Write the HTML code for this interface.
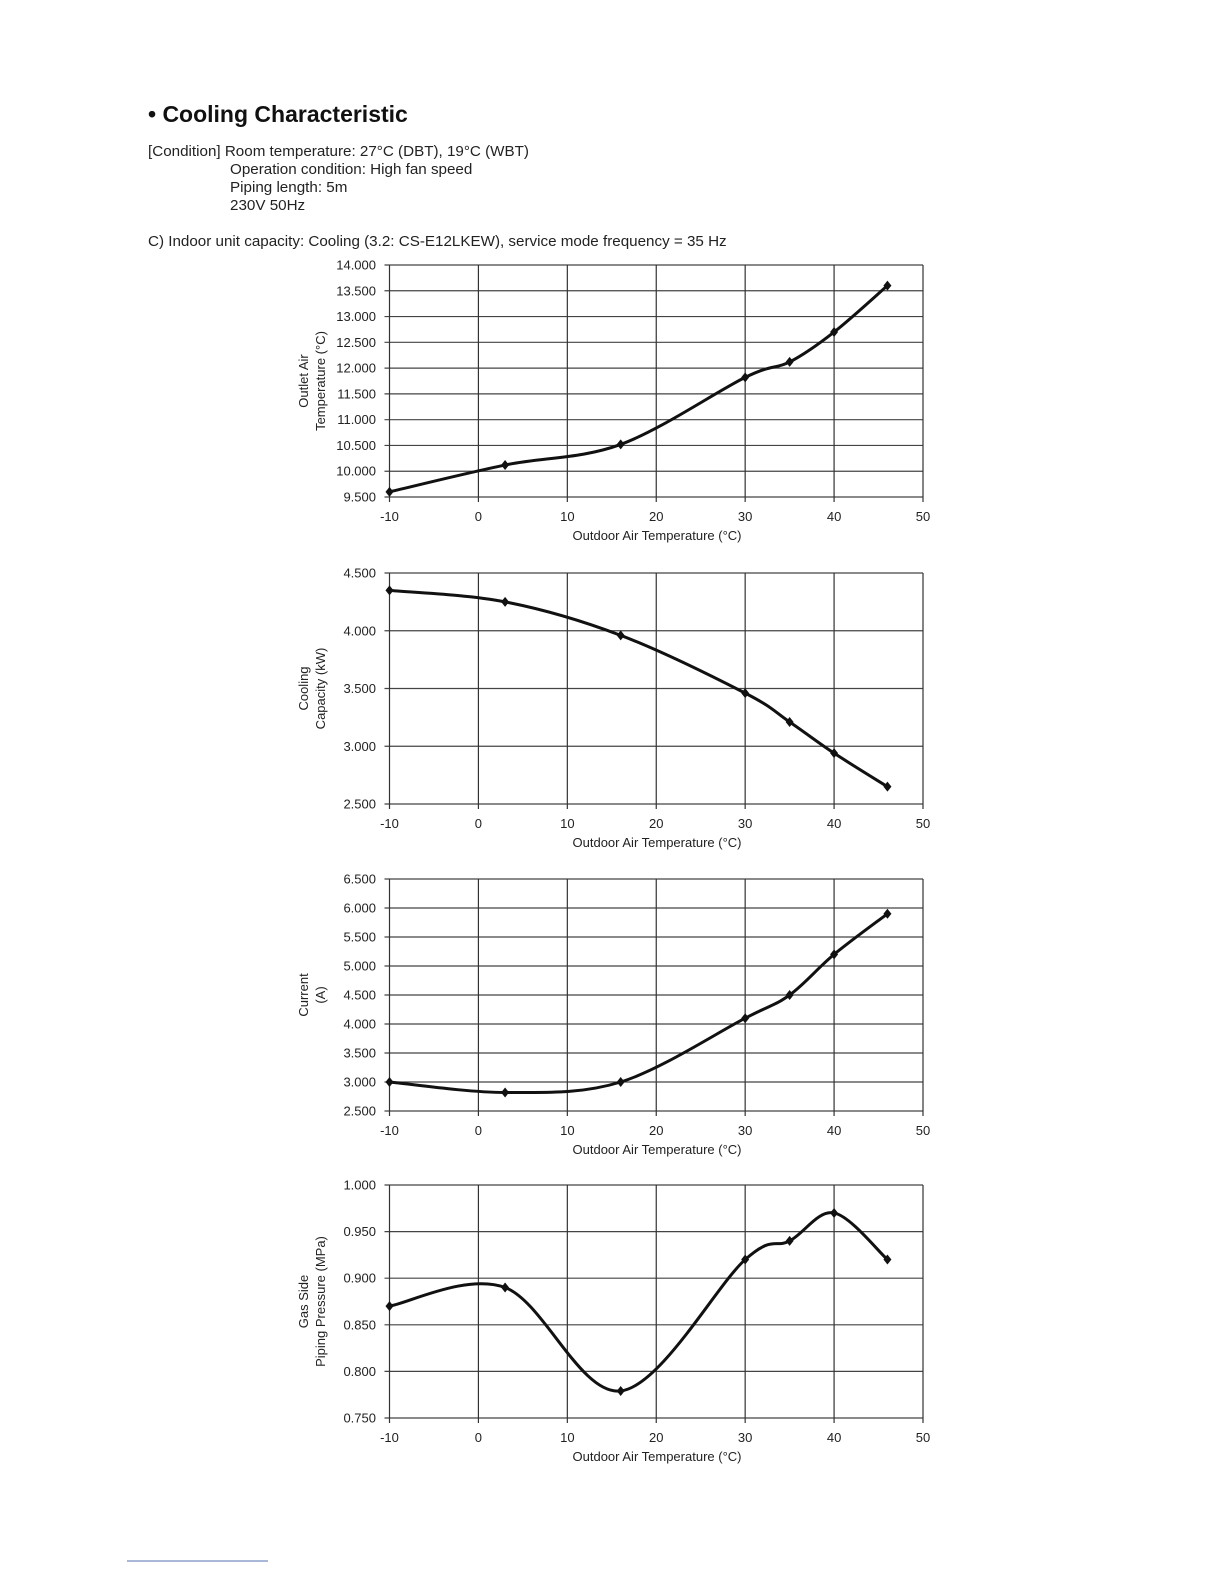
<!DOCTYPE html>
<html><head><meta charset="utf-8"><style>
body{margin:0;background:#fff;width:1224px;height:1584px;overflow:hidden;font-family:"Liberation Sans",sans-serif;}
svg{position:absolute;left:0;top:0}
</style></head><body>
<svg id="s" width="1224" height="1584" xmlns="http://www.w3.org/2000/svg" font-family="Liberation Sans, sans-serif">
<text x="148" y="122" font-size="23" font-weight="bold" fill="#111">• Cooling Characteristic</text>
<g font-size="15.2" fill="#222">
<text x="148" y="156">[Condition] Room temperature: 27°C (DBT), 19°C (WBT)</text>
<text x="230" y="174">Operation condition: High fan speed</text>
<text x="230" y="192">Piping length: 5m</text>
<text x="230" y="210">230V  50Hz</text>
<text x="148" y="246">C) Indoor unit capacity: Cooling (3.2: CS-E12LKEW), service mode frequency = 35 Hz</text>
</g>
<line x1="127" y1="1561" x2="268" y2="1561" stroke="#5570b0" stroke-width="1"/>
</svg>
<script>
var s=document.getElementById('s'),NS='http://www.w3.org/2000/svg';
function el(t,a,txt){var e=document.createElementNS(NS,t);for(var k in a)e.setAttribute(k,a[k]);if(txt!=null)e.textContent=txt;s.appendChild(e);return e;}
var X0=389.5,X1=923;
var charts=[
{t:265,b:497,min:9.5,max:14,step:0.5,l1:'Outlet Air',l2:'Temperature (°C)',d:[[-10,9.6],[3,10.12],[16,10.52],[30,11.82],[35,12.12],[40,12.7],[46,13.6]]},
{t:573,b:804,min:2.5,max:4.5,step:0.5,l1:'Cooling',l2:'Capacity (kW)',d:[[-10,4.35],[3,4.25],[16,3.96],[30,3.46],[35,3.21],[40,2.94],[46,2.65]]},
{t:879,b:1111,min:2.5,max:6.5,step:0.5,l1:'Current',l2:'(A)',d:[[-10,3.0],[3,2.82],[16,3.0],[30,4.1],[35,4.5],[40,5.2],[46,5.9]]},
{t:1185,b:1418,min:0.75,max:1.0,step:0.05,l1:'Gas Side',l2:'Piping Pressure (MPa)',d:[[-10,0.87],[3,0.89],[16,0.779],[30,0.92],[35,0.94],[40,0.97],[46,0.92]]}
];
charts.forEach(function(c){
 var fx=function(v){return X0+(v+10)/60*(X1-X0)};
 var fy=function(v){return c.b-(v-c.min)/(c.max-c.min)*(c.b-c.t)};
 var n=Math.round((c.max-c.min)/c.step);
 for(var i=0;i<=n;i++){var v=c.min+i*c.step,y=fy(v);
  el('line',{x1:X0-5,y1:y,x2:X1,y2:y,stroke:'#444','stroke-width':1.2});
  el('text',{x:376,y:y+4.5,'font-size':13,'text-anchor':'end',fill:'#222'},v.toFixed(3));}
 for(var xv=-10;xv<=50;xv+=10){var x=fx(xv);
  el('line',{x1:x,y1:c.t,x2:x,y2:c.b+5,stroke:'#333','stroke-width':1.2});
  el('text',{x:x,y:c.b+24,'font-size':13,'text-anchor':'middle',fill:'#222'},xv);}
 el('text',{x:657,y:c.b+43,'font-size':13,'text-anchor':'middle',fill:'#222'},'Outdoor Air Temperature (°C)');
 var cy=(c.t+c.b)/2;
 el('text',{x:0,y:0,'font-size':13,'text-anchor':'middle',fill:'#222',transform:'translate(308,'+cy+') rotate(-90)'},c.l1);
 el('text',{x:0,y:0,'font-size':13,'text-anchor':'middle',fill:'#222',transform:'translate(325,'+cy+') rotate(-90)'},c.l2);
 var p=c.d.map(function(q){return [fx(q[0]),fy(q[1])]});
 var d='M'+p[0][0]+','+p[0][1];
 for(var i=0;i<p.length-1;i++){var p0=p[i-1]||p[i],p1=p[i],p2=p[i+1],p3=p[i+2]||p2;
  var c1=[p1[0]+(p2[0]-p0[0])/6,p1[1]+(p2[1]-p0[1])/6],c2=[p2[0]-(p3[0]-p1[0])/6,p2[1]-(p3[1]-p1[1])/6];
  d+=' C'+c1+' '+c2+' '+p2;}
 el('path',{d:d,fill:'none',stroke:'#111','stroke-width':3,'stroke-linejoin':'round'});
 p.forEach(function(q){el('path',{d:'M'+q[0]+','+(q[1]-5)+' l4,5 l-4,5 l-4,-5z',fill:'#111'});});
});
</script>
</body></html>
